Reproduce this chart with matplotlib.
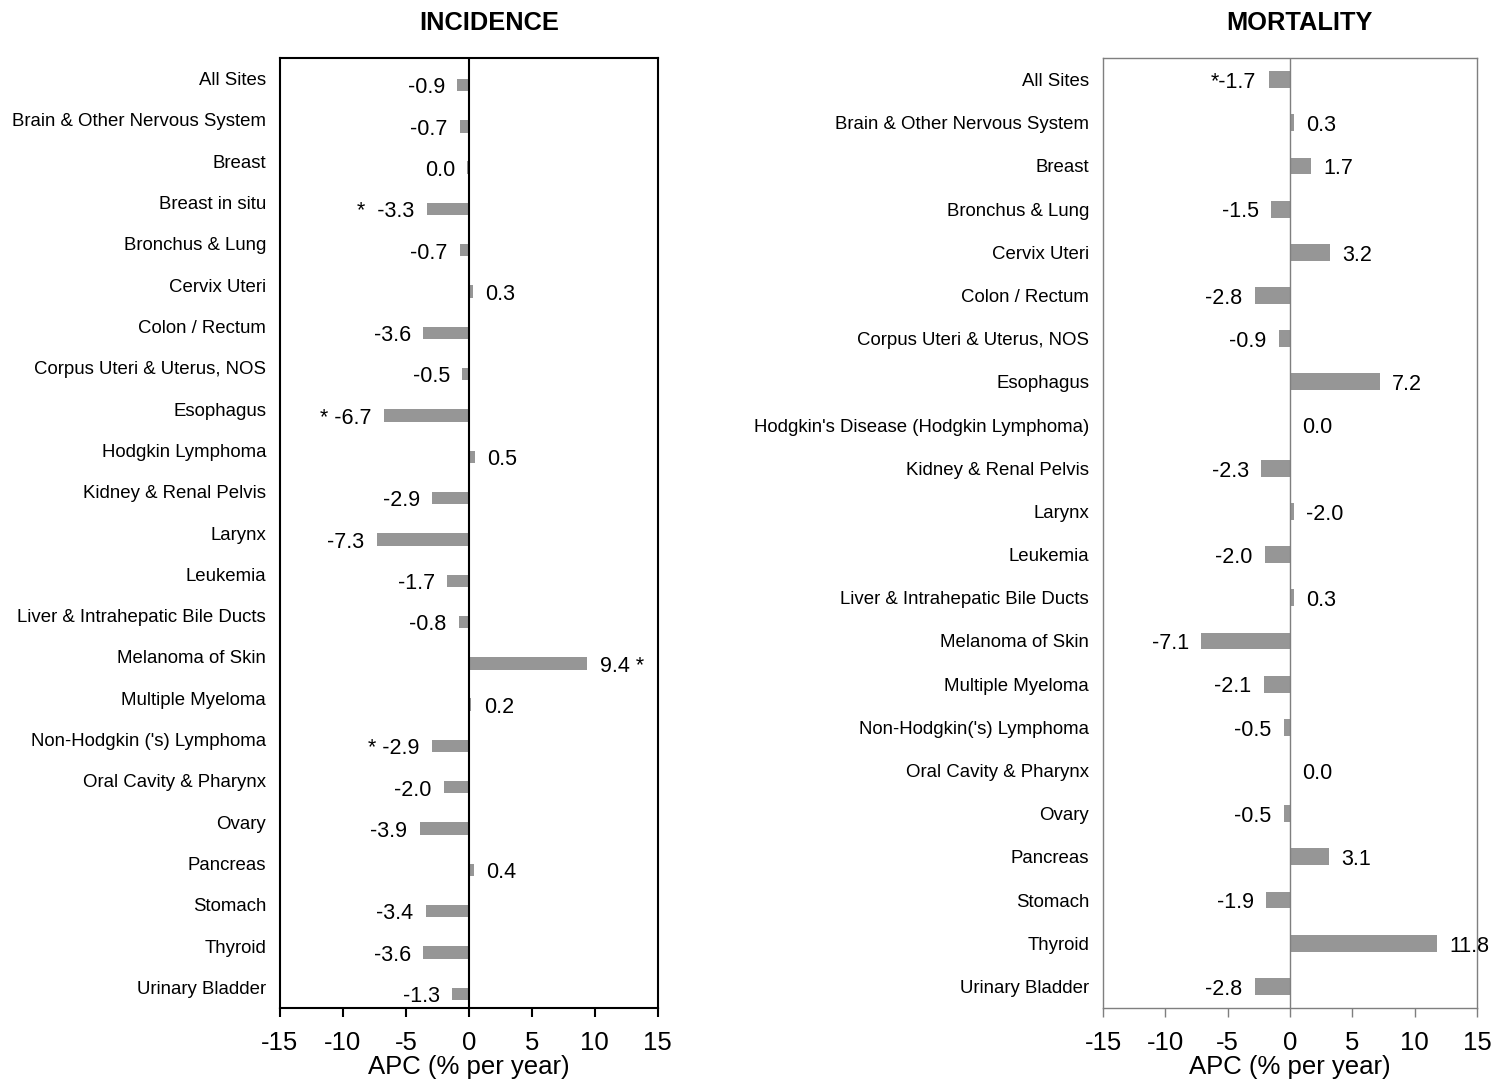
import numpy as np
import matplotlib.pyplot as plt

plt.rcParams['font.family'] = ['Liberation Sans', 'DejaVu Sans']
plt.rcParams['axes.unicode_minus'] = False

# incidence panel
inc_sites = ['All Sites', 'Brain & Other Nervous System', 'Breast', 'Breast in situ',
             'Bronchus & Lung', 'Cervix Uteri', 'Colon / Rectum', 'Corpus Uteri & Uterus, NOS',
             'Esophagus', 'Hodgkin Lymphoma', 'Kidney & Renal Pelvis', 'Larynx', 'Leukemia',
             'Liver & Intrahepatic Bile Ducts', 'Melanoma of Skin', 'Multiple Myeloma',
             "Non-Hodgkin ('s) Lymphoma", 'Oral Cavity & Pharynx', 'Ovary', 'Pancreas',
             'Stomach', 'Thyroid', 'Urinary Bladder']
inc_apc = [-0.9, -0.7, -0.1, -3.3, -0.7, 0.3, -3.6, -0.5, -6.7, 0.5, -2.9, -7.3, -1.7,
           -0.8, 9.4, 0.2, -2.9, -2.0, -3.9, 0.4, -3.4, -3.6, -1.3]
inc_labels = ['-0.9', '-0.7', '0.0', '*  -3.3', '-0.7', '0.3', '-3.6', '-0.5', '* -6.7', '0.5',
              '-2.9', '-7.3', '-1.7', '-0.8', '9.4 *', '0.2', '* -2.9', '-2.0', '-3.9', '0.4',
              '-3.4', '-3.6', '-1.3']

# mortality panel
mort_sites = ['All Sites', 'Brain & Other Nervous System', 'Breast', 'Bronchus & Lung',
              'Cervix Uteri', 'Colon / Rectum', 'Corpus Uteri & Uterus, NOS', 'Esophagus',
              "Hodgkin's Disease (Hodgkin Lymphoma)", 'Kidney & Renal Pelvis', 'Larynx',
              'Leukemia', 'Liver & Intrahepatic Bile Ducts', 'Melanoma of Skin',
              'Multiple Myeloma', "Non-Hodgkin('s) Lymphoma", 'Oral Cavity & Pharynx', 'Ovary',
              'Pancreas', 'Stomach', 'Thyroid', 'Urinary Bladder']
mort_apc = [-1.7, 0.3, 1.7, -1.5, 3.2, -2.8, -0.9, 7.2, 0.0, -2.3, 0.3, -2.0, 0.3, -7.1,
            -2.1, -0.5, 0.0, -0.5, 3.1, -1.9, 11.8, -2.8]
mort_labels = ['*-1.7', '0.3', '1.7', '-1.5', '3.2', '-2.8', '-0.9', '7.2', '0.0', '-2.3',
               '-2.0', '-2.0', '0.3', '-7.1', '-2.1', '-0.5', '0.0', '-0.5', '3.1', '-1.9',
               '11.8', '-2.8']

xticks = [-15, -10, -5, 0, 5, 10, 15]
bar_color = '#969696'

fig = plt.figure(figsize=(14.94, 10.86), dpi=100)
ax1 = fig.add_axes([0.1874, 0.0718, 0.2527, 0.8748])
ax2 = fig.add_axes([0.7383, 0.0718, 0.2503, 0.8748])


def draw_panel(ax, sites, vals, labels, title, edge, frame_lw, bar_h, shift, title_x):
    n = len(sites)
    pos = np.arange(n)
    ax.barh(pos + shift, vals, height=bar_h, color=bar_color, zorder=2)
    ax.axvline(0, color=edge, lw=frame_lw, zorder=3)
    ax.set_xlim(-15, 15)
    ax.set_ylim(n - 0.5, -0.5)
    ax.set_yticks(pos)
    ax.set_yticklabels(sites, fontsize=13.4)
    ax.set_xticks(xticks)
    ax.tick_params(axis='y', length=0, pad=10)
    ax.tick_params(axis='x', labelsize=18.5, length=6.5, width=frame_lw, color=edge, pad=10)
    for sp in ax.spines.values():
        sp.set_color(edge)
        sp.set_linewidth(frame_lw)
    ax.set_xlabel('APC (% per year)', fontsize=18.5, labelpad=0)
    ax.set_title(title, fontsize=18.3, fontweight='bold', pad=20, x=title_x)

    for y, v, s in zip(pos + shift, vals, labels):
        if v < 0:
            ax.annotate(s, (v, y), xytext=(-9, -2), textcoords='offset points',
                        ha='right', va='center', fontsize=15.5)
        else:
            ax.annotate(s, (v, y), xytext=(9, -2), textcoords='offset points',
                        ha='left', va='center', fontsize=15.5)


draw_panel(ax1, inc_sites, inc_apc, inc_labels, 'INCIDENCE', 'black', 1.5, 0.3, 0.155, 0.555)
draw_panel(ax2, mort_sites, mort_apc, mort_labels, 'MORTALITY', '#7f7f7f', 1.0, 0.39, 0.0, 0.524)

fig.savefig('out.png', dpi=100)
